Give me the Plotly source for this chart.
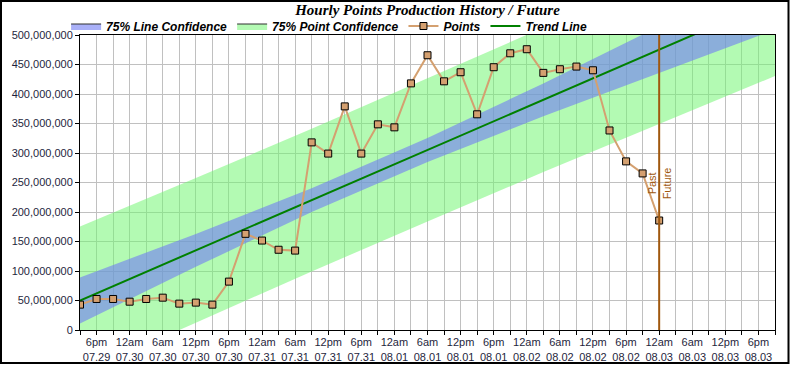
import plotly.graph_objects as go
import pandas as pd

# ---- data ----
point_times = pd.date_range("2013-07-29 15:00", "2013-08-03 00:00", freq="3h")
point_values_m = [43.0, 52.6, 52.6, 48.0, 52.6, 54.8, 44.7, 46.4, 43.0, 82.0,
                  163.0, 151.6, 136.0, 134.6, 318.0, 299.0, 379.0, 299.0, 348.6, 343.5,
                  418.0, 465.7, 421.5, 436.9, 365.6, 445.4, 469.0, 475.9, 435.8, 442.0,
                  446.5, 440.2, 338.2, 285.8, 265.4, 185.6]
point_values = [v * 1e6 for v in point_values_m]

trend_times = ["2013-07-29 15:00", "2013-08-03 21:00"]
trend_values = [50.0e6, 560.2e6]

band_times = ["2013-07-29 15:00", "2013-07-30 12:00", "2013-07-31 09:00", "2013-08-01 06:00",
              "2013-08-02 03:00", "2013-08-03 00:00", "2013-08-03 21:00"]
line_conf_lower = [11.0e6, 107.1e6, 199.9e6, 284.9e6, 362.3e6, 436.2e6, 509.0e6]
line_conf_upper = [89.0e6, 162.9e6, 240.3e6, 325.3e6, 417.9e6, 514.0e6, 611.4e6]
point_conf_lower = [-75.5e6, 12.5e6, 99.1e6, 184.1e6, 267.6e6, 349.6e6, 430.4e6]
point_conf_upper = [175.5e6, 257.5e6, 341.1e6, 426.1e6, 512.6e6, 600.6e6, 690.0e6]

tick_times = pd.date_range("2013-07-29 18:00", "2013-08-03 18:00", freq="6h")
tick_labels = ["6pm<br>07.29", "12am<br>07.30", "6am<br>07.30", "12pm<br>07.30", "6pm<br>07.30",
               "12am<br>07.31", "6am<br>07.31", "12pm<br>07.31", "6pm<br>07.31",
               "12am<br>08.01", "6am<br>08.01", "12pm<br>08.01", "6pm<br>08.01",
               "12am<br>08.02", "6am<br>08.02", "12pm<br>08.02", "6pm<br>08.02",
               "12am<br>08.03", "6am<br>08.03", "12pm<br>08.03", "6pm<br>08.03"]

x_range = ["2013-07-29 15:00", "2013-08-03 21:00"]
now_time = "2013-08-03 00:00"

GREEN_FILL = "rgba(114,246,114,0.54)"
BLUE_FILL = "rgba(111,123,244,0.60)"
TEXT_COL = "#1f1f3d"
BROWN = "#A0580F"

fig = go.Figure()

# bands (drawn, legend hidden)
fig.add_trace(go.Scatter(
    x=band_times + band_times[::-1], y=point_conf_upper + point_conf_lower[::-1],
    fill="toself", fillcolor=GREEN_FILL, line=dict(width=0), mode="lines",
    showlegend=False, hoverinfo="skip"))
fig.add_trace(go.Scatter(
    x=band_times + band_times[::-1], y=line_conf_upper + line_conf_lower[::-1],
    fill="toself", fillcolor=BLUE_FILL, line=dict(width=0), mode="lines",
    showlegend=False, hoverinfo="skip"))

# legend-only entries
fig.add_trace(go.Scatter(x=[None], y=[None], mode="lines", fill="toself", fillcolor=BLUE_FILL,
                         line=dict(color="#303030", width=1), name="75% Line Confidence"))
fig.add_trace(go.Scatter(x=[None], y=[None], mode="lines", fill="toself", fillcolor=GREEN_FILL,
                         line=dict(color="#303030", width=1), name="75% Point Confidence"))

fig.add_trace(go.Scatter(
    x=trend_times, y=trend_values, mode="lines", line=dict(color="#008000", width=2),
    name="Trend Line", legendrank=2000))

fig.add_trace(go.Scatter(
    x=point_times, y=point_values, mode="lines+markers", name="Points",
    line=dict(color="#D4A070", width=2),
    marker=dict(symbol="square", size=7, color="#D4A070", line=dict(color="black", width=1)),
    legendrank=1500))

# past / future divider
fig.add_shape(type="line", x0=now_time, x1=now_time, y0=0, y1=1, yref="paper",
              line=dict(color=BROWN, width=2))
fig.add_annotation(x=now_time, y=248e6, text="Past", textangle=-90, showarrow=False,
                   xshift=-7.5, font=dict(family="Liberation Sans", size=11, color=BROWN))
fig.add_annotation(x=now_time, y=248e6, text="Future", textangle=-90, showarrow=False,
                   xshift=7.5, font=dict(family="Liberation Sans", size=11, color=BROWN))

# outer border
W, H = 790, 365
L, R, T, B = 80, 15, 35, 35
pw, ph = W - L - R, H - T - B
def px_x(p):
    return (p - L) / pw
def px_y(p):
    return (H - B - p) / ph
fig.add_shape(type="rect", xref="paper", yref="paper",
              x0=px_x(1), x1=px_x(788.5), y0=px_y(363), y1=px_y(1),
              line=dict(color="black", width=2), layer="above")

grid = "#C0C0C0"
fig.update_layout(
    width=W, height=H,
    margin=dict(l=L, r=R, t=T, b=B, autoexpand=False),
    paper_bgcolor="white", plot_bgcolor="white",
    title=dict(text="Hourly Points Production History / Future", x=0.5, xref="paper",
               xanchor="center", y=1 - 10 / H, yanchor="middle",
               font=dict(family="Liberation Serif", size=15, color="black",
                         weight="bold", style="italic")),
    legend=dict(orientation="h", x=-0.02, xanchor="left", y=px_y(26), yanchor="middle",
                bgcolor="rgba(0,0,0,0)", font=dict(family="Liberation Sans", size=12,
                color="black", weight="bold", style="italic"),
                itemwidth=30, tracegroupgap=0),
    showlegend=True,
    xaxis=dict(type="date", range=x_range, tickmode="array", tickvals=tick_times,
               ticktext=tick_labels, ticks="outside", ticklen=4, tickcolor="black",
               ticklabelstandoff=-2,
               showgrid=True, gridcolor=grid, gridwidth=1,
               showline=True, linecolor="black", linewidth=1, mirror=True,
               tickfont=dict(family="Liberation Sans", size=11, color=TEXT_COL),
               minor=dict(dtick=3 * 3600 * 1000, tick0="2013-07-29 15:00", ticks="outside",
                          ticklen=4, tickcolor="black", showgrid=True, gridcolor=grid),
               zeroline=False),
    yaxis=dict(range=[0, 500e6], tickmode="linear", tick0=0, dtick=50e6, tickformat=",d",
               ticks="outside", ticklen=4, tickcolor="black",
               showgrid=True, gridcolor=grid, gridwidth=1,
               showline=True, linecolor="black", linewidth=1, mirror=True,
               tickfont=dict(family="Liberation Sans", size=11, color=TEXT_COL),
               zeroline=False),
)

fig.write_html("out.html", config={"displayModeBar": False},
               post_script="document.body.style.margin='0';document.body.style.overflow='hidden';")
